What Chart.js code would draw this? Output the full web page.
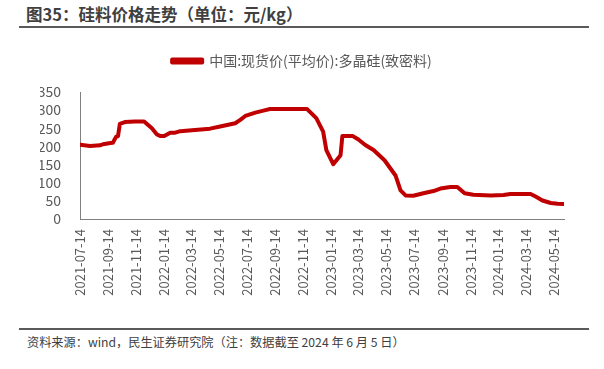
<!DOCTYPE html>
<html>
<head>
<meta charset="utf-8">
<script src="https://cdn.jsdelivr.net/npm/chart.js@4.4.1/dist/chart.umd.min.js"></script>
<style>
  html, body { margin: 0; padding: 0; background: #fff; }
  body { width: 604px; height: 369px; position: relative; overflow: hidden; font-family: "Noto Sans CJK SC", "Noto Sans", sans-serif; }
  #title { position: absolute; left: 26px; top: 2px; font-size: 16.5px; font-weight: bold; color: #404040; }
  #topline { position: absolute; left: 19px; top: 26px; width: 570px; height: 2px; background: #5a5a5a; }
  #botline { position: absolute; left: 19px; top: 328px; width: 570px; height: 2px; background: #5a5a5a; }
  #source { position: absolute; left: 27px; top: 333px; font-size: 12.2px; color: #404040; }
  #wrap { position: absolute; left: 0; top: 36px; width: 604px; height: 290px; }
</style>
</head>
<body>
<div id="title">图35：硅料价格走势（单位：元/kg）</div>
<div id="topline"></div>
<div id="wrap"><canvas id="c"></canvas></div>
<div id="botline"></div>
<div id="source">资料来源：wind，民生证券研究院（注：数据截至 2024 年 6 月 5 日）</div>
<script>
const seriesName = "中国:现货价(平均价):多晶硅(致密料)";
const dates = [
  "2021-07-14","2021-08-05","2021-08-27","2021-09-02","2021-09-22","2021-09-24","2021-10-01","2021-10-05",
  "2021-10-09","2021-10-20","2021-11-11","2021-12-01","2021-12-18","2021-12-29","2022-01-05","2022-01-14",
  "2022-01-27","2022-02-07","2022-02-18","2022-03-22","2022-04-24","2022-05-16","2022-06-18","2022-06-29",
  "2022-07-10","2022-08-01","2022-08-23","2022-09-02","2022-11-22","2022-12-12","2022-12-27","2023-01-03",
  "2023-01-18","2023-02-03","2023-02-07","2023-03-01","2023-03-14","2023-03-29","2023-04-16","2023-05-10",
  "2023-06-03","2023-06-14","2023-06-25","2023-07-12","2023-08-03","2023-08-25","2023-09-09","2023-10-01",
  "2023-10-16","2023-11-01","2023-11-20","2023-12-28","2024-01-25","2024-02-09","2024-03-24","2024-04-04",
  "2024-04-19","2024-05-07","2024-05-22","2024-06-05"
];
const prices = [
  205,201,203,206,210,211,227,228,
  262,267,269,269,250,233,229,229,
  238,238,242,245,249,255,264,273,
  284,293,300,303,303,278,241,190,
  151,176,229,229,219,204,190,162,
  120,79,65,64,71,77,84,88,
  88,71,67,65,66,69,69,62,
  51,44,42,41
];
const tickDates = [
  "2021-07-14","2021-09-14","2021-11-14","2022-01-14","2022-03-14","2022-05-14",
  "2022-07-14","2022-09-14","2022-11-14","2023-01-14","2023-03-14","2023-05-14",
  "2023-07-14","2023-09-14","2023-11-14","2024-01-14","2024-03-14","2024-05-14"
];
const yTicks = [0,50,100,150,200,250,300,350];

const DAY = 86400000;
const t0 = Date.parse(dates[0] + "T00:00:00Z");
const toDay = s => Math.round((Date.parse(s + "T00:00:00Z") - t0) / DAY);
const points = dates.map((d, i) => ({ x: toDay(d), y: prices[i] }));
const tickDays = tickDates.map(toDay);
const dayLabel = {};
tickDates.forEach((d, i) => { dayLabel[tickDays[i]] = d; });

const FONT = '"Noto Sans CJK SC", "Noto Sans", sans-serif';
const gray = '#595959';

const legendGap = {
  id: 'legendGap',
  beforeInit(chart) {
    const orig = chart.legend.fit;
    chart.legend.fit = function () { orig.call(this); this.height += 14; };
  }
};

new Chart(document.getElementById('c'), {
  type: 'line',
  data: {
    datasets: [{
      label: seriesName,
      data: points,
      borderColor: '#C00000',
      backgroundColor: '#C00000',
      borderWidth: 4,
      borderJoinStyle: 'round',
      borderCapStyle: 'round',
      pointRadius: 0,
      tension: 0,
      fill: false
    }]
  },
  plugins: [legendGap],
  options: {
    responsive: true,
    maintainAspectRatio: false,
    animation: false,
    layout: { padding: { left: 40, right: 40, top: 4, bottom: 0 } },
    plugins: {
      tooltip: { enabled: false },
      legend: {
        display: true,
        position: 'top',
        labels: {
          boxWidth: 30,
          boxHeight: 3,
          padding: 14,
          color: gray,
          font: { family: FONT, size: 14 }
        }
      }
    },
    scales: {
      x: {
        type: 'linear',
        min: 0,
        max: toDay("2024-06-05"),
        afterBuildTicks: scale => { scale.ticks = tickDays.map(v => ({ value: v })); },
        afterFit: scale => { scale.height = 107; },
        grid: { display: false, drawOnChartArea: false, drawTicks: true, tickLength: 5, color: '#808080' },
        border: { display: true, color: '#808080', width: 1 },
        ticks: {
          autoSkip: false,
          minRotation: 90,
          maxRotation: 90,
          padding: 5,
          color: gray,
          font: { family: FONT, size: 13 },
          callback: v => dayLabel[v] || ''
        }
      },
      y: {
        min: 0,
        max: 350,
        afterBuildTicks: scale => { scale.ticks = yTicks.map(v => ({ value: v })); },
        afterFit: scale => { scale.width = 40; },
        grid: { display: false, drawOnChartArea: false, drawTicks: true, tickLength: 5, color: '#808080' },
        border: { display: true, color: '#808080', width: 1 },
        ticks: {
          autoSkip: false,
          padding: 14,
          color: gray,
          font: { family: FONT, size: 14 }
        }
      }
    }
  }
});
</script>
</body>
</html>
